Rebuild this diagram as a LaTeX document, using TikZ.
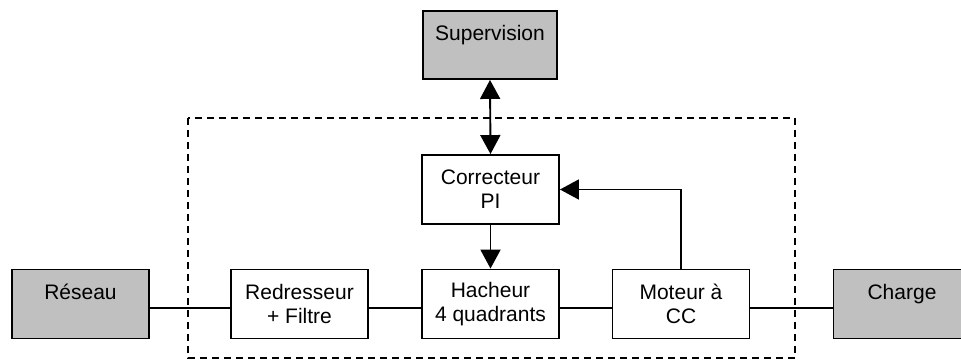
\documentclass[tikz,border=0pt]{standalone}
\usepackage{fontspec}
\setmainfont{Liberation Sans}
\usetikzlibrary{arrows.meta}
\definecolor{boxgrey}{RGB}{192,192,192}
\tikzset{
  blk/.style={draw, line width=1.9pt, minimum width=137pt, minimum height=69pt,
    inner sep=0pt, align=center, font=\fontsize{21}{24}\selectfont},
  ext/.style={blk, fill=boxgrey},
  wire/.style={line width=1.9pt},
  arr/.style={wire, -{Triangle[width=20pt,length=19pt]}},
  darr/.style={wire, {Triangle[width=20pt,length=19pt]}-{Triangle[width=20pt,length=19pt]}},
  frame/.style={line width=1.9pt, dash pattern=on 7pt off 5pt}
}
\begin{document}
\begin{tikzpicture}[x=1pt,y=-1pt]
\useasboundingbox (0,0) rectangle (961,361);
\clip (0,0) rectangle (961,361);
\node[ext, minimum width=134pt, minimum height=68pt] (sup) at (490,45) {Supervision\\ \phantom{I}};
\node[blk] (corr) at (490.5,189.5) {Correcteur\\PI};
\node[blk] (hach) at (490.5,304) {Hacheur\\4 quadrants};
\node[blk] (redr) at (299.5,304) {Redresseur\\+ Filtre};
\node[ext] (res) at (80.5,304) {Réseau\\ \phantom{I}};
\node[blk] (mot) at (681,304) {Moteur à\\CC};
\node[ext] (chg) at (902,304) {Charge\\ \phantom{I}};
\coordinate (fa) at (188,118);
\coordinate (fb) at (795,358);
\draw[frame] (fa) rectangle (fb);
\draw[darr] (sup.south) -- (corr.north);
\draw[arr] (corr.south) -- (hach.north);
\draw[arr] (mot.north) |- (corr.east);
\draw[wire] ([yshift=-4pt]res.east) -- ([yshift=-4pt]redr.west);
\draw[wire] ([yshift=-4pt]redr.east) -- ([yshift=-4pt]hach.west);
\draw[wire] ([yshift=-4pt]hach.east) -- ([yshift=-4pt]mot.west);
\draw[wire] ([yshift=-4pt]mot.east) -- ([yshift=-4pt]chg.west);
\end{tikzpicture}
\end{document}
